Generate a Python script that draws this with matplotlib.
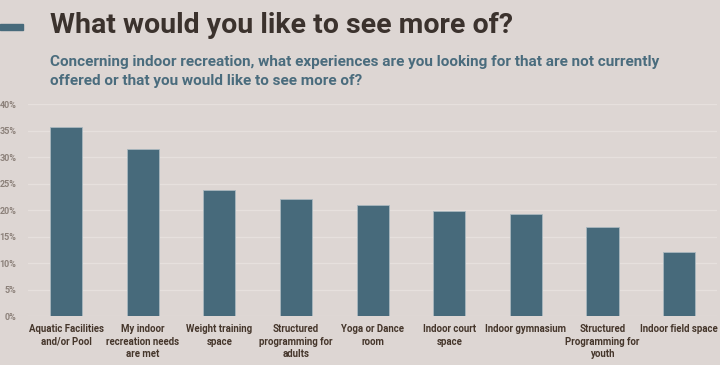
import matplotlib
matplotlib.use("Agg")
import matplotlib.pyplot as plt
from matplotlib.ticker import FuncFormatter

categories = ["Aquatic Facilities\nand/or Pool", "My indoor\nrecreation needs\nare met",
              "Weight training\nspace", "Structured\nprogramming for\nadults",
              "Yoga or Dance\nroom", "Indoor court\nspace", "Indoor gymnasium",
              "Structured\nProgramming for\nyouth", "Indoor field space"]
values = [35.7, 31.5, 23.8, 22.1, 20.9, 19.8, 19.2, 16.9, 12.2]
yticks = [0, 5, 10, 15, 20, 25, 30, 35, 40]

BG = "#DDD6D3"
BAR = "#476A7B"

fig = plt.figure(figsize=(7.2, 3.65), dpi=100, facecolor=BG)
ax = fig.add_axes([0.0385, 0.134, 0.958, 0.58], facecolor=BG)

x = list(range(len(categories)))
ax.bar(x, values, width=0.42, color=BAR, edgecolor="#A9B8BF", linewidth=0.6, zorder=3)
ax.set_xlim(-0.5, len(categories) - 0.5)
ax.set_ylim(0, 40)
ax.set_yticks(yticks)
ax.yaxis.set_major_formatter(FuncFormatter(lambda v, p: f"{int(v)}%"))
ax.grid(axis="y", color="#E6E0DD", linewidth=1.0, zorder=0)
for s in ax.spines.values():
    s.set_visible(False)
ax.tick_params(axis="y", length=0, pad=8, labelsize=6.5, labelcolor="#8C817A")
ax.tick_params(axis="x", length=0, pad=6)
ax.set_xticks(x)
ax.set_xticklabels(categories, fontsize=6.9, fontweight="bold", color="#45362B",
                   family="Roboto", linespacing=1.3)
for lbl in ax.get_yticklabels():
    lbl.set_fontweight("bold")
    lbl.set_family("Roboto")

fig.text(0.069, 0.909, "What would you like to see more of?", fontsize=20.5,
         color="#3B322D", family="Roboto", fontweight="bold", va="baseline")
fig.patches.append(plt.Rectangle((0, 0.918), 0.032, 0.017, transform=fig.transFigure,
                                 color=BAR, figure=fig))
fig.text(0.069, 0.818, "Concerning indoor recreation, what experiences are you looking for that are not currently",
         fontsize=11, color="#4A6C7D", family="Roboto", fontweight="bold", va="baseline")
fig.text(0.069, 0.767, "offered or that you would like to see more of?",
         fontsize=11, color="#4A6C7D", family="Roboto", fontweight="bold", va="baseline")

fig.savefig("out.png", dpi=100, facecolor=BG)
